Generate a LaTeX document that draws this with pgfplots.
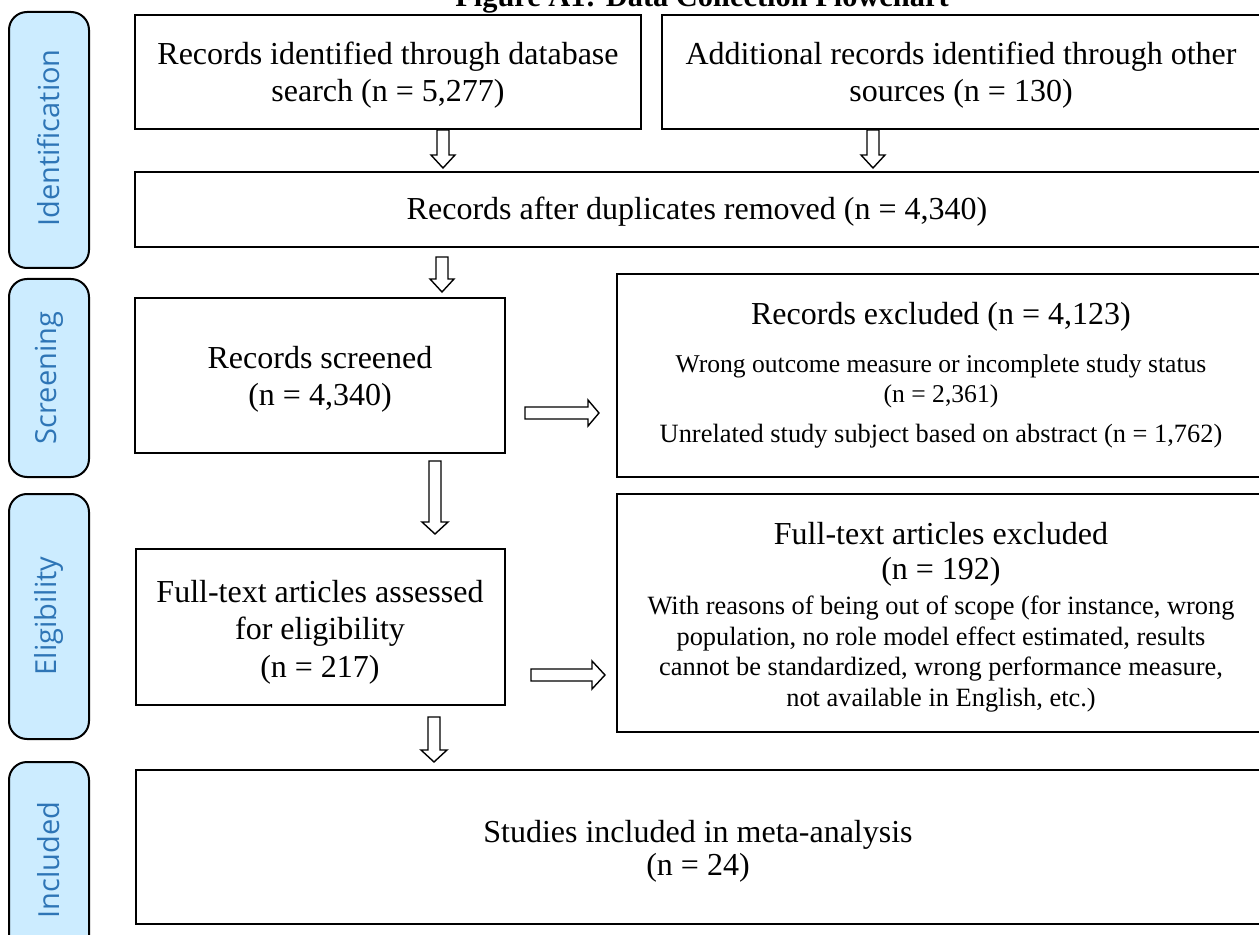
\documentclass[border=0pt]{standalone}
\usepackage{pgfplots}
\pgfplotsset{compat=1.18}
\usepackage{fontspec}
\setmainfont{Liberation Serif}
\newfontfamily\labelfont{Open Sans}
\definecolor{stagefill}{RGB}{204,236,255}
\definecolor{stagetext}{RGB}{46,117,182}

\begin{document}
\begin{tikzpicture}
\begin{axis}[%
width=629.5pt, height=467.5pt,%
scale only axis,%
axis lines=none,%
xmin=0, xmax=1259,%
ymin=0, ymax=935,%
y dir=reverse,%
clip=false]%

% stage labels
\addplot[black, line width=1pt, fill=stagefill, rounded corners=9pt] coordinates {(9,12) (89,12) (89,268) (9,268)} --cycle;
\addplot[black, line width=1pt, fill=stagefill, rounded corners=9pt] coordinates {(9,279) (89,279) (89,477) (9,477)} --cycle;
\addplot[black, line width=1pt, fill=stagefill, rounded corners=9pt] coordinates {(9,494) (89,494) (89,739) (9,739)} --cycle;
\addplot[black, line width=1pt, fill=stagefill, rounded corners=9pt] coordinates {(9,762) (89,762) (89,960) (9,960)} --cycle;

% boxes
\addplot[black, line width=0.9pt] coordinates {(135,15) (641,15) (641,129) (135,129)} --cycle;
\addplot[black, line width=0.9pt] coordinates {(662,15) (1280,15) (1280,129) (662,129)} --cycle;
\addplot[black, line width=0.9pt] coordinates {(135,172) (1280,172) (1280,247) (135,247)} --cycle;
\addplot[black, line width=0.9pt] coordinates {(135,298) (505,298) (505,453) (135,453)} --cycle;
\addplot[black, line width=0.9pt] coordinates {(617,274) (1280,274) (1280,477) (617,477)} --cycle;
\addplot[black, line width=0.9pt] coordinates {(136,549) (505,549) (505,705) (136,705)} --cycle;
\addplot[black, line width=0.9pt] coordinates {(617,494) (1280,494) (1280,732) (617,732)} --cycle;
\addplot[black, line width=0.9pt] coordinates {(136,770) (1280,770) (1280,924) (136,924)} --cycle;

% hollow arrows
\addplot[black, line width=0.7pt] coordinates {(437,130) (449,130) (449,155) (455,155) (443,168) (431,155) (437,155)} --cycle;
\addplot[black, line width=0.7pt] coordinates {(867,130) (879,130) (879,155) (885,155) (873,168) (861,155) (867,155)} --cycle;
\addplot[black, line width=0.7pt] coordinates {(436,257) (448,257) (448,279) (454,279) (442,292) (430,279) (436,279)} --cycle;
\addplot[black, line width=0.7pt] coordinates {(525,407) (588,407) (588,400) (599,413) (588,426) (588,419) (525,419)} --cycle;
\addplot[black, line width=0.7pt] coordinates {(429,461) (441,461) (441,522) (448,522) (435,534) (422,522) (429,522)} --cycle;
\addplot[black, line width=0.7pt] coordinates {(531,669) (592,669) (592,661) (605,675) (592,689) (592,681) (531,681)} --cycle;
\addplot[black, line width=0.7pt] coordinates {(428,717) (440,717) (440,750) (447,750) (434,762) (421,750) (428,750)} --cycle;

% stage names
\node[rotate=90, text=stagetext, font=\labelfont\fontsize{14.5}{16}\selectfont] at (axis cs:49,138) {Identification};
\node[rotate=90, text=stagetext, font=\labelfont\fontsize{14.5}{16}\selectfont] at (axis cs:49,378) {Screening};
\node[rotate=90, text=stagetext, font=\labelfont\fontsize{14.5}{16}\selectfont] at (axis cs:49,616) {Eligibility};
\node[rotate=90, text=stagetext, font=\labelfont\fontsize{14.5}{16}\selectfont] at (axis cs:49,860) {Included};

% title (cut at the top edge, as in the reference)
\node[anchor=base, font=\bfseries\fontsize{15.2}{17}\selectfont] at (axis cs:702,7) {Figure A1: Data Collection Flowchart};

% box texts
\node[align=center, font=\fontsize{16}{18.5}\selectfont] at (axis cs:388,75) {Records identified through database\\search (n = 5,277)};
\node[align=center, font=\fontsize{16}{18.5}\selectfont] at (axis cs:961,75) {Additional records identified through other\\sources (n = 130)};
\node[align=center, font=\fontsize{16}{18.5}\selectfont] at (axis cs:697,212) {Records after duplicates removed (n = 4,340)};
\node[align=center, font=\fontsize{16}{18.5}\selectfont] at (axis cs:320,379) {Records screened\\(n = 4,340)};
\node[align=center, font=\fontsize{16}{18.5}\selectfont] at (axis cs:941,317) {Records excluded (n = 4,123)};
\node[align=center, font=\fontsize{12.8}{15}\selectfont] at (axis cs:941,381) {Wrong outcome measure or incomplete study status\\(n = 2,361)};
\node[align=center, font=\fontsize{13.2}{15}\selectfont] at (axis cs:941,436) {Unrelated study subject based on abstract (n = 1,762)};
\node[align=center, font=\fontsize{16}{17.5}\selectfont] at (axis cs:941,554) {Full-text articles excluded\\(n = 192)};
\node[align=center, font=\fontsize{13.2}{15.3}\selectfont] at (axis cs:941,654) {With reasons of being out of scope (for instance, wrong\\population, no role model effect estimated, results\\cannot be standardized, wrong performance measure,\\not available in English, etc.)};
\node[align=center, font=\fontsize{16}{18.7}\selectfont] at (axis cs:320,632) {Full-text articles assessed\\for eligibility\\(n = 217)};
\node[align=center, font=\fontsize{16}{16.5}\selectfont] at (axis cs:698,851) {Studies included in meta-analysis\\(n = 24)};

\end{axis}
\pgfresetboundingbox
\path[use as bounding box] (current axis.south west) rectangle (current axis.north east);
\end{tikzpicture}
\end{document}
